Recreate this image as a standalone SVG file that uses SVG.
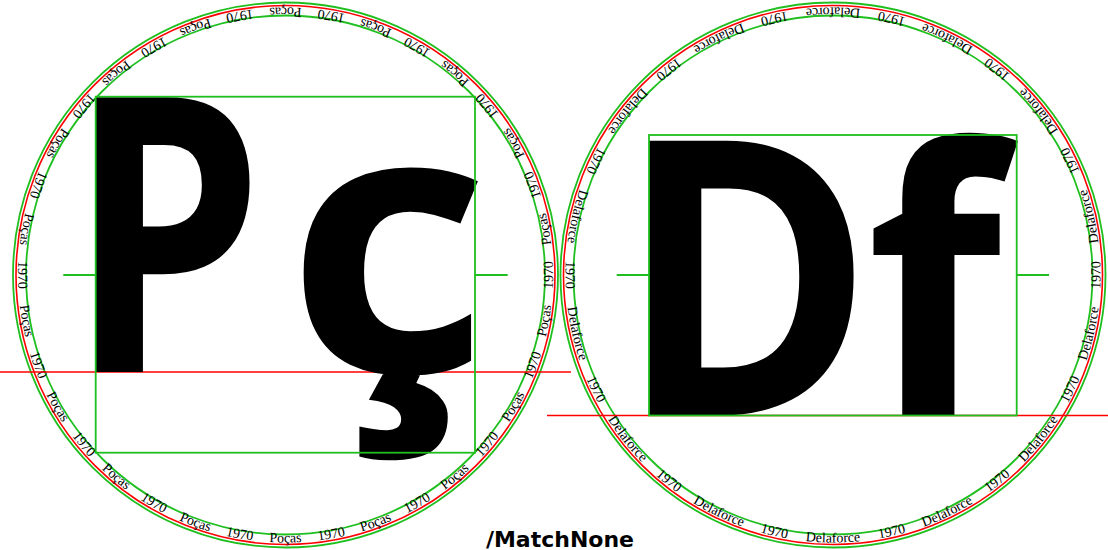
<svg xmlns="http://www.w3.org/2000/svg" width="1108" height="550" viewBox="0 0 1108 550">
<style>
.g{fill:none;stroke:#1fbf1f;stroke-width:1.8}
.r{fill:none;stroke:#ff0000;stroke-width:1.6}
.ring{font-family:"Liberation Serif",serif;font-size:14px;fill:#000;text-anchor:middle}
.big{font-family:"Open Sans",sans-serif;font-weight:700;font-size:385px;fill:#000}
.lbl{font-family:"DejaVu Sans",sans-serif;font-weight:700;font-size:22px;fill:#000;text-anchor:middle}
</style>
<defs>
<path id="pl" d="M285.5 7.5A267.5 267.5 0 0 0 285.5 542.5A267.5 267.5 0 0 0 285.5 7.5"/>
<path id="pr" d="M833 7.5A267.5 267.5 0 0 0 833 542.5A267.5 267.5 0 0 0 833 7.5"/>
<text id="wl" class="ring"><textPath href="#pl" startOffset="50%">Poças</textPath></text>
<text id="yl" class="ring"><textPath href="#pl" startOffset="50%">1970</textPath></text>
<text id="wr" class="ring"><textPath href="#pr" startOffset="50%">Delaforce</textPath></text>
<text id="yr" class="ring"><textPath href="#pr" startOffset="50%">1970</textPath></text>
</defs>

<g id="left-medallion">
<circle class="g" cx="285.5" cy="275" r="272.5"/>
<circle class="r" cx="285.5" cy="275" r="269.5"/>
<circle class="g" cx="285.5" cy="275" r="259.5"/>
<g id="left-ring-text">
<use href="#wl"/>
<use href="#wl" transform="rotate(20 285.5 275)"/>
<use href="#wl" transform="rotate(40 285.5 275)"/>
<use href="#wl" transform="rotate(60 285.5 275)"/>
<use href="#wl" transform="rotate(80 285.5 275)"/>
<use href="#wl" transform="rotate(100 285.5 275)"/>
<use href="#wl" transform="rotate(120 285.5 275)"/>
<use href="#wl" transform="rotate(140 285.5 275)"/>
<use href="#wl" transform="rotate(160 285.5 275)"/>
<use href="#wl" transform="rotate(180 285.5 275)"/>
<use href="#wl" transform="rotate(200 285.5 275)"/>
<use href="#wl" transform="rotate(220 285.5 275)"/>
<use href="#wl" transform="rotate(240 285.5 275)"/>
<use href="#wl" transform="rotate(260 285.5 275)"/>
<use href="#wl" transform="rotate(280 285.5 275)"/>
<use href="#wl" transform="rotate(300 285.5 275)"/>
<use href="#wl" transform="rotate(320 285.5 275)"/>
<use href="#wl" transform="rotate(340 285.5 275)"/>
<use href="#yl" transform="rotate(10 285.5 275)"/>
<use href="#yl" transform="rotate(30 285.5 275)"/>
<use href="#yl" transform="rotate(50 285.5 275)"/>
<use href="#yl" transform="rotate(70 285.5 275)"/>
<use href="#yl" transform="rotate(90 285.5 275)"/>
<use href="#yl" transform="rotate(110 285.5 275)"/>
<use href="#yl" transform="rotate(130 285.5 275)"/>
<use href="#yl" transform="rotate(150 285.5 275)"/>
<use href="#yl" transform="rotate(170 285.5 275)"/>
<use href="#yl" transform="rotate(190 285.5 275)"/>
<use href="#yl" transform="rotate(210 285.5 275)"/>
<use href="#yl" transform="rotate(230 285.5 275)"/>
<use href="#yl" transform="rotate(250 285.5 275)"/>
<use href="#yl" transform="rotate(270 285.5 275)"/>
<use href="#yl" transform="rotate(290 285.5 275)"/>
<use href="#yl" transform="rotate(310 285.5 275)"/>
<use href="#yl" transform="rotate(330 285.5 275)"/>
<use href="#yl" transform="rotate(350 285.5 275)"/>
</g>
<line class="r" x1="0" y1="372" x2="571" y2="372"/>
<text class="big" transform="translate(67.7 372) scale(0.81 1)">P</text>
<text class="big" transform="translate(285.8 372) scale(1.033 0.955)">ç</text>
<rect class="g" x="95.7" y="96.7" width="379.3" height="356"/>
<line class="g" x1="63.3" y1="275" x2="95.7" y2="275"/>
<line class="g" x1="475" y1="275" x2="507.7" y2="275"/>
</g>

<g id="right-medallion">
<circle class="g" cx="833" cy="275" r="272.5"/>
<circle class="r" cx="833" cy="275" r="269.5"/>
<circle class="g" cx="833" cy="275" r="259.5"/>
<g id="right-ring-text">
<use href="#wr"/>
<use href="#wr" transform="rotate(25.714 833 275)"/>
<use href="#wr" transform="rotate(51.429 833 275)"/>
<use href="#wr" transform="rotate(77.143 833 275)"/>
<use href="#wr" transform="rotate(102.857 833 275)"/>
<use href="#wr" transform="rotate(128.571 833 275)"/>
<use href="#wr" transform="rotate(154.286 833 275)"/>
<use href="#wr" transform="rotate(180 833 275)"/>
<use href="#wr" transform="rotate(205.714 833 275)"/>
<use href="#wr" transform="rotate(231.429 833 275)"/>
<use href="#wr" transform="rotate(257.143 833 275)"/>
<use href="#wr" transform="rotate(282.857 833 275)"/>
<use href="#wr" transform="rotate(308.571 833 275)"/>
<use href="#wr" transform="rotate(334.286 833 275)"/>
<use href="#yr" transform="rotate(12.857 833 275)"/>
<use href="#yr" transform="rotate(38.571 833 275)"/>
<use href="#yr" transform="rotate(64.286 833 275)"/>
<use href="#yr" transform="rotate(90 833 275)"/>
<use href="#yr" transform="rotate(115.714 833 275)"/>
<use href="#yr" transform="rotate(141.429 833 275)"/>
<use href="#yr" transform="rotate(167.143 833 275)"/>
<use href="#yr" transform="rotate(192.857 833 275)"/>
<use href="#yr" transform="rotate(218.571 833 275)"/>
<use href="#yr" transform="rotate(244.286 833 275)"/>
<use href="#yr" transform="rotate(270 833 275)"/>
<use href="#yr" transform="rotate(295.714 833 275)"/>
<use href="#yr" transform="rotate(321.429 833 275)"/>
<use href="#yr" transform="rotate(347.143 833 275)"/>
</g>
<line class="r" x1="547" y1="415.5" x2="1108" y2="415.5"/>
<text class="big" transform="translate(618 415.5) scale(0.897 1)">D</text>
<text class="big" transform="translate(866.5 415.5) scale(0.91 0.96)">f</text>
<rect class="g" x="649" y="135" width="367.7" height="280.5"/>
<line class="g" x1="616.7" y1="275" x2="649" y2="275"/>
<line class="g" x1="1016.7" y1="275" x2="1049" y2="275"/>
</g>

<g id="label">
<text class="lbl" x="560" y="547">/MatchNone</text>
</g>
</svg>
